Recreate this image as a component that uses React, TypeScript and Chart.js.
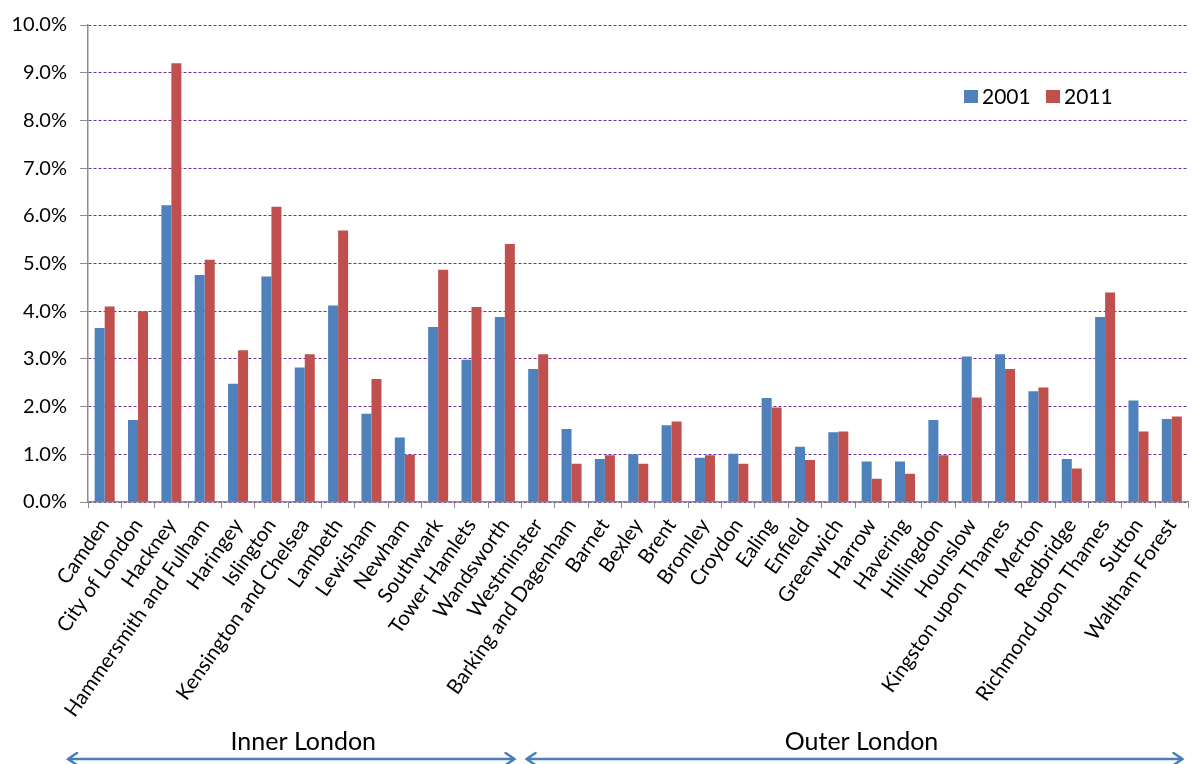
import React, { useEffect, useRef } from "react";
import { Chart, registerables } from "chart.js";

Chart.register(...registerables);

const boroughs = [
  "Camden", "City of London", "Hackney", "Hammersmith and Fulham", "Haringey", "Islington",
  "Kensington and Chelsea", "Lambeth", "Lewisham", "Newham", "Southwark", "Tower Hamlets",
  "Wandsworth", "Westminster", "Barking and Dagenham", "Barnet", "Bexley", "Brent", "Bromley",
  "Croydon", "Ealing", "Enfield", "Greenwich", "Harrow", "Havering", "Hillingdon", "Hounslow",
  "Kingston upon Thames", "Merton", "Redbridge", "Richmond upon Thames", "Sutton", "Waltham Forest",
];

const values2001 = [
  3.65, 1.72, 6.22, 4.76, 2.48, 4.73, 2.82, 4.12, 1.85, 1.35, 3.67, 2.98, 3.88, 2.79,
  1.53, 0.9, 1.0, 1.61, 0.93, 1.01, 2.18, 1.16, 1.46, 0.85, 0.85, 1.72, 3.05, 3.1, 2.32,
  0.9, 3.88, 2.13, 1.74,
];

const values2011 = [
  4.1, 4.0, 9.2, 5.08, 3.18, 6.19, 3.1, 5.69, 2.58, 0.99, 4.87, 4.09, 5.41, 3.1,
  0.8, 0.98, 0.8, 1.69, 0.98, 0.8, 1.98, 0.88, 1.48, 0.49, 0.59, 0.98, 2.19, 2.79, 2.4,
  0.7, 4.39, 1.48, 1.79,
];

const seriesLabels = ["2001", "2011"];
const yTicks = [0, 1, 2, 3, 4, 5, 6, 7, 8, 9, 10];
const groupNames = ["Inner London", "Outer London"];
const innerCount = 13;

const BLUE = "#4F81BD";
const RED = "#C0504D";
const FONT = "Lato, 'DejaVu Sans', sans-serif";

const overlayPlugin = {
  id: "overlay",
  afterDraw(chart: any) {
    const ctx = chart.ctx;
    const xs = chart.scales.x;
    const catW = xs.width / boroughs.length;
    ctx.save();
    // legend
    const ds = chart.data.datasets;
    ctx.font = `21px ${FONT}`;
    ctx.textBaseline = "middle";
    ctx.textAlign = "left";
    let lx = 964;
    const ly = 97;
    ds.forEach((d: any) => {
      ctx.fillStyle = d.backgroundColor;
      ctx.fillRect(lx, ly - 7, 14, 13);
      ctx.fillStyle = "#000";
      ctx.fillText(d.label, lx + 18, ly);
      lx += 82;
    });

    // group arrows
    const ay = 759;
    const segs = [
      [xs.left - 20, xs.left + innerCount * catW - 7],
      [xs.left + innerCount * catW + 5, xs.right - 6],
    ];
    const textShift = [12, 7];
    ctx.strokeStyle = "#4A7EBB";
    ctx.lineWidth = 2.5;
    ctx.lineCap = "round";
    segs.forEach(([a, b], i) => {
      ctx.beginPath();
      ctx.moveTo(a, ay);
      ctx.lineTo(b, ay);
      ctx.moveTo(a + 9, ay - 6);
      ctx.lineTo(a, ay);
      ctx.lineTo(a + 9, ay + 6);
      ctx.moveTo(b - 9, ay - 6);
      ctx.lineTo(b, ay);
      ctx.lineTo(b - 9, ay + 6);
      ctx.stroke();
      ctx.fillStyle = "#000";
      ctx.font = `25px ${FONT}`;
      ctx.textAlign = "center";
      ctx.textBaseline = "middle";
      ctx.fillText(groupNames[i], (a + b) / 2 + textShift[i], 742);
    });
    ctx.restore();
  },
};

export default function App() {
  const ref = useRef<HTMLCanvasElement | null>(null);
  useEffect(() => {
    if (!ref.current) return;
    const chart = new Chart(ref.current, {
      type: "bar",
      data: {
        labels: boroughs,
        datasets: [
          { label: seriesLabels[0], data: values2001, backgroundColor: BLUE, barPercentage: 1, categoryPercentage: 0.6 },
          { label: seriesLabels[1], data: values2011, backgroundColor: RED, barPercentage: 1, categoryPercentage: 0.6 },
        ],
      },
      options: {
        animation: false,
        responsive: false,
        maintainAspectRatio: false,
        layout: { padding: { top: 24, right: 2, bottom: 30, left: 0 } },
        plugins: { legend: { display: false }, tooltip: { enabled: false } },
        scales: {
          x: {
            grid: { drawOnChartArea: false, drawTicks: true, tickLength: 6, tickColor: "#8C8C8C", offset: true },
            border: { color: "#8C8C8C", width: 1.5 },
            ticks: {
              autoSkip: false,
              maxRotation: 55,
              minRotation: 55,
              padding: 6,
              color: "#000",
              font: { family: FONT, size: 20.5 },
            },
            afterFit(scale: any) {
              scale.height = 232;
            },
          },
          y: {
            min: 0,
            max: 10,
            afterBuildTicks(scale: any) {
              scale.ticks = yTicks.map((v) => ({ value: v }));
            },
            grid: { color: "#7030A0", lineWidth: 1, tickLength: 8, tickColor: "#8C8C8C" },
            border: { color: "#8C8C8C", width: 1.5, dash: [3, 2] },
            ticks: {
              padding: 13,
              color: "#000",
              font: { family: FONT, size: 20 },
              callback: (v: any) => Number(v).toFixed(1) + "%",
            },
            afterFit(scale: any) {
              scale.width = 88;
            },
          },
        },
      },
      plugins: [overlayPlugin],
    });
    return () => chart.destroy();
  }, []);
  return (
    <div style={{ position: "fixed", left: 0, top: 0, width: 1198, height: 764, background: "#fff" }}>
      <canvas ref={ref} width={1198} height={764} style={{ display: "block" }} />
    </div>
  );
}
